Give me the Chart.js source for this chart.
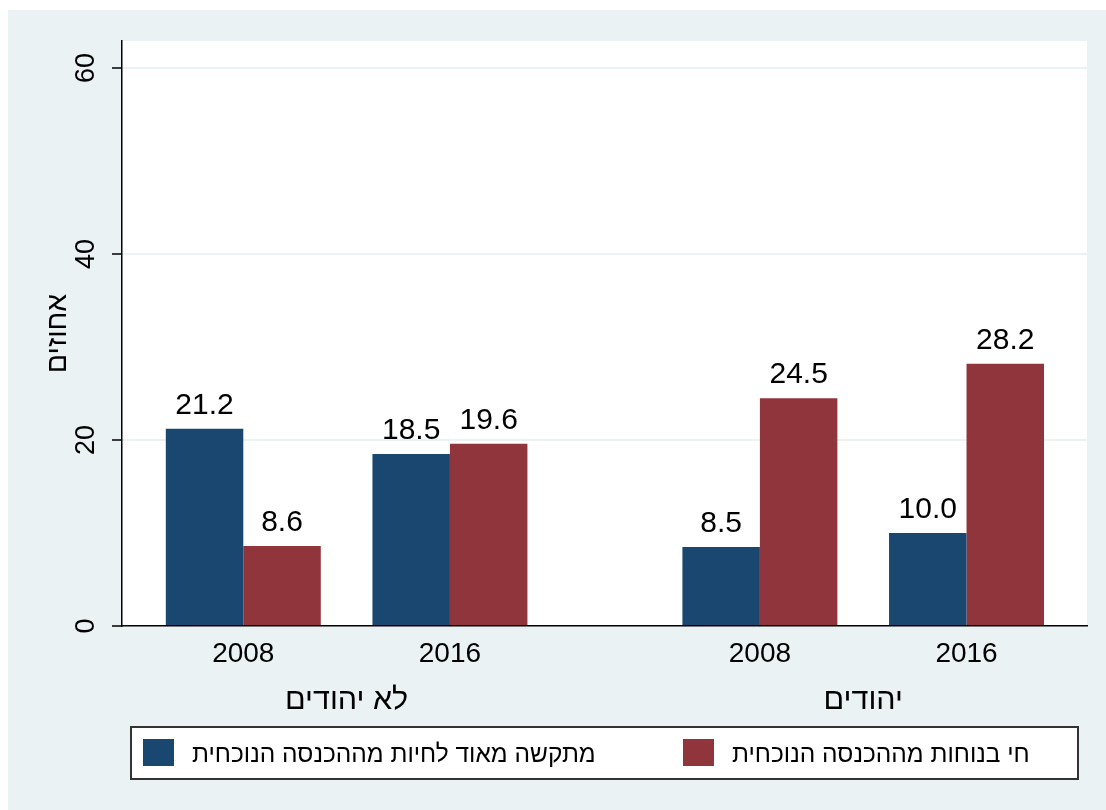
<!DOCTYPE html>
<html lang="he">
<head>
<meta charset="utf-8">
<title>אחוזים לפי קבוצה ושנה</title>
<script src="https://cdn.jsdelivr.net/npm/chart.js@4.4.1/dist/chart.umd.min.js"></script>
<style>
  html, body { margin: 0; padding: 0; background: #ffffff; }
  #wrap { width: 1106px; height: 810px; }
</style>
</head>
<body>
<div id="wrap"><canvas id="chart" width="1106" height="810"></canvas></div>
<script>
// Chart data
const groups = ['לא יהודים', 'יהודים'];
const years = ['2008', '2016'];
const seriesLabels = ['מתקשה מאוד לחיות מההכנסה הנוכחית', 'חי בנוחות מההכנסה הנוכחית'];
// values in order: (לא יהודים 2008, לא יהודים 2016, יהודים 2008, יהודים 2016)
const hardValues = [21.2, 18.5, 8.5, 10.0];
const comfortValues = [8.6, 19.6, 24.5, 28.2];
const yTicks = [0, 20, 40, 60];

const FONT = '"Liberation Sans", Arial, sans-serif';
const BLUE = '#1a476f';
const RED = '#90353b';
const BG = '#eaf2f3';

// slot position on the x axis: groups are spaced wider than the years inside them
const GROUP_STEP = 2.5;
const slotOf = (g, y) => g * GROUP_STEP + y;
const slots = [];
const slotLabels = [];
groups.forEach((grp, g) => years.forEach((yr, y) => { slots.push(slotOf(g, y)); slotLabels.push(yr); }));
const groupCenters = groups.map((grp, g) => slotOf(g, (years.length - 1) / 2));

const toPoints = vals => vals.map((v, i) => ({ x: slots[i], y: v }));

const X_MIN = -0.587, X_MAX = 4.083;

const backgroundPlugin = {
    id: 'stataBackground',
    beforeDraw(chart) {
        const { ctx, chartArea: a } = chart;
        ctx.save();
        ctx.fillStyle = '#ffffff';
        ctx.fillRect(0, 0, chart.width, chart.height);
        ctx.fillStyle = BG;
        ctx.fillRect(8, 10, chart.width - 8, chart.height - 10);
        ctx.fillStyle = '#ffffff';
        ctx.fillRect(a.left, a.top, a.right - a.left, a.bottom - a.top);
        ctx.restore();
    }
};

// rotated y tick labels (Stata style)
const yLabelPlugin = {
    id: 'yLabels',
    afterDraw(chart) {
        const { ctx } = chart;
        const y = chart.scales.y;
        ctx.save();
        ctx.fillStyle = '#000';
        ctx.font = '27px ' + FONT;
        ctx.textAlign = 'center';
        ctx.textBaseline = 'middle';
        yTicks.forEach(v => {
            ctx.save();
            ctx.translate(y.right - 35, y.getPixelForValue(v));
            ctx.rotate(-Math.PI / 2);
            ctx.fillText(String(v), 0, 0);
            ctx.restore();
        });
        ctx.restore();
    }
};

const valueLabelPlugin = {
    id: 'valueLabels',
    afterDatasetsDraw(chart) {
        const { ctx } = chart;
        ctx.save();
        ctx.fillStyle = '#000';
        ctx.font = '30px ' + FONT;
        ctx.textAlign = 'center';
        ctx.textBaseline = 'alphabetic';
        chart.data.datasets.forEach((ds, i) => {
            chart.getDatasetMeta(i).data.forEach((bar, j) => {
                ctx.fillText(ds.data[j].y.toFixed(1), bar.x, bar.y - 15);
            });
        });
        ctx.restore();
    }
};

const boxLegendPlugin = {
    id: 'boxLegend',
    afterDraw(chart) {
        const { ctx } = chart;
        const left = 131, top = chart.height - 83, width = 947, height = 52;
        ctx.save();
        ctx.fillStyle = '#ffffff';
        ctx.fillRect(left, top, width, height);
        ctx.strokeStyle = '#333333';
        ctx.lineWidth = 2;
        ctx.strokeRect(left, top, width, height);
        ctx.font = '24.5px ' + FONT;
        ctx.textBaseline = 'middle';
        ctx.textAlign = 'left';
        const starts = [left + 12, left + 552];
        chart.data.datasets.forEach((ds, i) => {
            const x = starts[i];
            ctx.fillStyle = ds.backgroundColor;
            ctx.fillRect(x, top + 12, 31, 27);
            ctx.fillStyle = '#000';
            ctx.fillText(ds.label, x + 49, top + 28);
        });
        ctx.restore();
    }
};

const ctx = document.getElementById('chart');

new Chart(ctx, {
    type: 'bar',
    data: {
        datasets: [
            {
                label: seriesLabels[0],
                data: toPoints(hardValues),
                backgroundColor: BLUE,
                borderWidth: 0
            },
            {
                label: seriesLabels[1],
                data: toPoints(comfortValues),
                backgroundColor: RED,
                borderWidth: 0
            }
        ]
    },
    options: {
        responsive: false,
        animation: false,
        devicePixelRatio: 1,
        categoryPercentage: 0.75,
        barPercentage: 1.0,
        layout: {
            padding: { left: 8, top: 41, right: 19, bottom: 90 }
        },
        plugins: {
            legend: { display: false },
            tooltip: { enabled: false }
        },
        scales: {
            x: {
                type: 'linear',
                position: 'bottom',
                offset: false,
                min: X_MIN,
                max: X_MAX,
                afterBuildTicks(scale) {
                    scale.ticks = slots.map(v => ({ value: v }));
                },
                afterFit(scale) { scale.height = 48; },
                grid: { display: false, drawTicks: false },
                border: { display: true, color: '#000', width: 1.5 },
                ticks: {
                    padding: 11,
                    color: '#000',
                    font: { family: FONT, size: 28 },
                    maxRotation: 0,
                    callback: (value) => slotLabels[slots.indexOf(value)] ?? ''
                }
            },
            groupAxis: {
                type: 'linear',
                position: 'bottom',
                offset: false,
                min: X_MIN,
                max: X_MAX,
                afterBuildTicks(scale) {
                    scale.ticks = groupCenters.map(v => ({ value: v }));
                },
                afterFit(scale) { scale.height = 46; },
                grid: { display: false, drawTicks: false },
                border: { display: false },
                ticks: {
                    padding: 8,
                    color: '#000',
                    font: { family: FONT, size: 30.5 },
                    maxRotation: 0,
                    callback: (value) => groups[groupCenters.indexOf(value)] ?? ''
                }
            },
            y: {
                min: 0,
                max: 62.9,
                afterBuildTicks(scale) {
                    scale.ticks = yTicks.map(v => ({ value: v }));
                },
                afterFit(scale) { scale.width = 114; },
                grid: {
                    color: BG,
                    lineWidth: 2,
                    tickColor: '#000',
                    tickLength: 10,
                    tickWidth: 1.5
                },
                border: { display: true, color: '#000', width: 1.5 },
                ticks: { display: false },
                title: {
                    display: true,
                    text: 'אחוזים',
                    color: '#000',
                    font: { family: FONT, size: 28.5 },
                    padding: { top: 33, bottom: 0 }
                }
            }
        }
    },
    plugins: [backgroundPlugin, yLabelPlugin, valueLabelPlugin, boxLegendPlugin]
});
</script>
</body>
</html>
